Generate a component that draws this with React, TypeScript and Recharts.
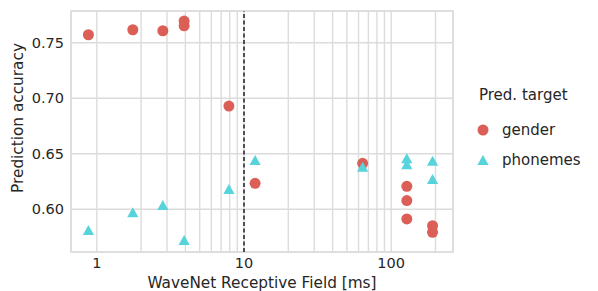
import React from 'react';
import {
  ScatterChart,
  Scatter,
  XAxis,
  YAxis,
  CartesianGrid,
  ReferenceLine,
  ReferenceArea,
} from 'recharts';

const genderMs = [0.877, 1.757, 2.81, 3.92, 3.92, 7.9, 11.9, 64, 127.7, 127.7, 127.7, 191, 191];
const genderAcc = [0.7572, 0.7617, 0.7608, 0.7695, 0.7653, 0.693, 0.6234, 0.6414, 0.6207, 0.6078, 0.5913, 0.5852, 0.5793];
const phonemesMs = [0.877, 1.757, 2.81, 3.92, 7.9, 11.9, 64, 127.7, 127.7, 191, 191];
const phonemesAcc = [0.5813, 0.5973, 0.6039, 0.5723, 0.6183, 0.6444, 0.6384, 0.646, 0.6405, 0.6438, 0.6273];

const xGridTicks = [1, 2, 3, 4, 5, 6, 7, 8, 9, 10, 20, 30, 40, 50, 60, 70, 80, 90, 100, 200];
const xLabelTicks = [1, 10, 100];
const yTicks = [0.6, 0.65, 0.7, 0.75];
const xDomain = [0.668, 263];
const yDomain = [0.5615, 0.7786];
const dashedAt = 10;

const RED = '#db5f57';
const CYAN = '#57d3db';
const GRID = '#dcdcdc';
const TEXT = '#262626';
const FONT = '"DejaVu Sans", sans-serif';

const genderData = genderMs.map((x, i) => ({ x, y: genderAcc[i] }));
const phonemesData = phonemesMs.map((x, i) => ({ x, y: phonemesAcc[i] }));

const Circle = (props: any) => {
  const { cx, cy } = props;
  if (cx == null || cy == null) return null;
  return <circle cx={cx} cy={cy} r={5.5} fill={RED} />;
};

const Triangle = (props: any) => {
  const { cx, cy } = props;
  if (cx == null || cy == null) return null;
  const w = 5.6;
  const h = 5;
  return (
    <polygon
      points={`${cx},${cy - h} ${cx - w},${cy + h} ${cx + w},${cy + h}`}
      fill={CYAN}
    />
  );
};

const LegendBox = () => (
  <svg
    width={128}
    height={100}
    style={{ position: 'absolute', left: 470, top: 80, display: 'block' }}
  >
    <text x={9} y={15} fontSize={15} fill={TEXT} fontFamily={FONT} dominantBaseline="central">
      Pred. target
    </text>
    <circle cx={13} cy={50} r={5.5} fill={RED} />
    <text x={32} y={50} fontSize={15} fill={TEXT} fontFamily={FONT} dominantBaseline="central">
      gender
    </text>
    <polygon points={`13,75 7.4,85 18.6,85`} fill={CYAN} />
    <text x={32} y={80} fontSize={15} fill={TEXT} fontFamily={FONT} dominantBaseline="central">
      phonemes
    </text>
  </svg>
);

export default function App() {
  return (
    <div style={{ position: 'absolute', left: 0, top: 0, width: 598, height: 291, background: '#fff' }}>
      <ScatterChart width={598} height={291} margin={{ top: 11, right: 145, bottom: 0, left: 0 }}>
        <CartesianGrid stroke={GRID} strokeWidth={1.4} />
        <XAxis
          dataKey="x"
          type="number"
          scale="log"
          domain={xDomain}
          allowDataOverflow
          ticks={xGridTicks}
          interval={0}
          tickFormatter={(v: number) => (xLabelTicks.includes(v) ? String(v) : '')}
          tickLine={false}
          axisLine={false}
          tickSize={0}
          tickMargin={6}
          height={39}
          tick={{ fontSize: 14.5, fill: TEXT, fontFamily: FONT }}
          label={{
            content: (p: any) => {
              const vb = p.viewBox || {};
              return (
                <text
                  x={vb.x + vb.width / 2}
                  y={288}
                  textAnchor="middle"
                  fontSize={15.3}
                  fill={TEXT}
                  fontFamily={FONT}
                >
                  WaveNet Receptive Field [ms]
                </text>
              );
            },
          }}
        />
        <YAxis
          dataKey="y"
          type="number"
          domain={yDomain}
          allowDataOverflow
          ticks={yTicks}
          interval={0}
          tickFormatter={(v: number) => v.toFixed(2)}
          tickLine={false}
          axisLine={false}
          tickSize={0}
          tickMargin={7}
          width={71}
          tick={{ fontSize: 14.5, fill: TEXT, fontFamily: FONT }}
          label={{
            content: () => (
              <text
                x={22.5}
                y={118}
                transform="rotate(-90, 22.5, 118)"
                textAnchor="middle"
                fontSize={15.3}
                fill={TEXT}
                fontFamily={FONT}
              >
                Prediction accuracy
              </text>
            ),
          }}
        />
        <ReferenceArea
          x1={xDomain[0]}
          x2={xDomain[1]}
          y1={yDomain[0]}
          y2={yDomain[1]}
          fill="none"
          stroke={GRID}
          strokeWidth={1.6}
          ifOverflow="extendDomain"
        />
        <ReferenceLine x={dashedAt} stroke="#000" strokeWidth={1.3} strokeDasharray="4 2.5" />
        <Scatter name="gender" data={genderData} shape={<Circle />} isAnimationActive={false} />
        <Scatter name="phonemes" data={phonemesData} shape={<Triangle />} isAnimationActive={false} />
      </ScatterChart>
      <LegendBox />
    </div>
  );
}
